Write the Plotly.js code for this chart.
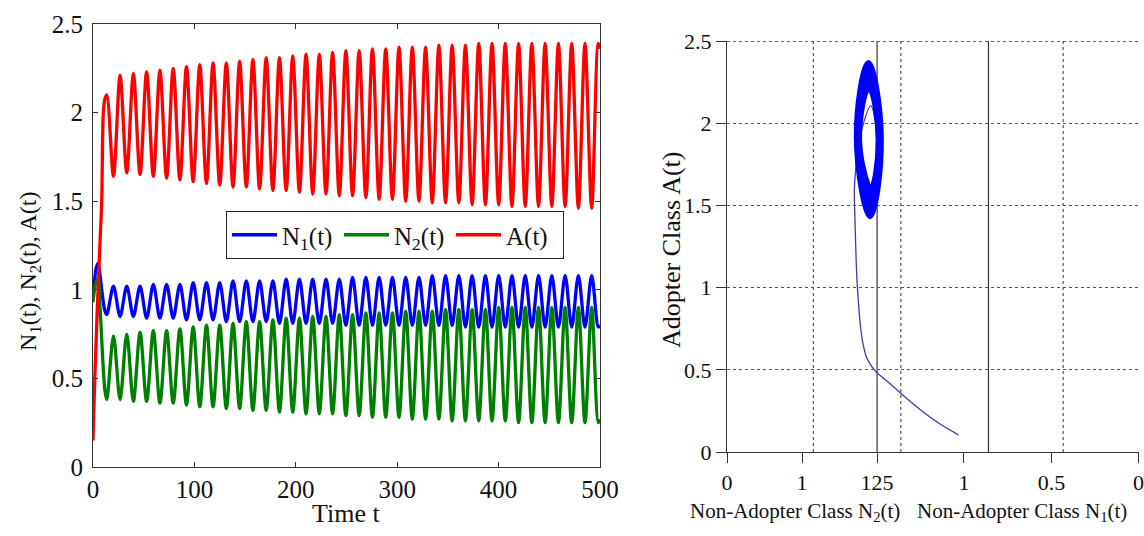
<!DOCTYPE html>
<html>
<head>
<meta charset="utf-8">
<script src="https://cdn.plot.ly/plotly-3.0.1.min.js"></script>
<style>
html,body{margin:0;padding:0;background:#fff;}
#chart{width:1144px;height:536px;}
</style>
</head>
<body>
<div id="chart"></div>
<script>
// ---------- Left panel: time series ----------
const timeT = [0,1.5,3,5,7,8.6,10.2,11.8,
  13.6,20.2,26.7,33.3,39.8,46.4,52.9,59.5,66.0,72.6,79.1,85.7,92.2,98.8,105.3,111.9,118.4,125.0,131.5,138.1,
  144.6,151.2,157.7,164.3,170.8,177.4,183.9,190.5,197.0,203.6,210.1,216.7,223.2,229.8,236.3,242.9,249.4,256.0,
  262.5,269.1,275.6,282.2,288.7,295.3,301.8,308.4,314.9,321.5,328.0,334.6,341.1,347.7,354.2,360.8,367.3,373.9,
  380.4,387.0,393.5,400.1,406.6,413.2,419.7,426.3,432.8,439.4,445.9,452.5,459.0,465.6,472.1,478.7,485.2,491.8,
  498.3,500];

const adopterA = [0.15,0.45,0.70,1.00,1.28,1.50,2.00,2.08,
  2.10,1.64, 2.21,1.66, 2.22,1.65, 2.23,1.64, 2.24,1.63, 2.25,1.62, 2.26,1.61, 2.27,1.60, 2.28,1.59, 2.28,1.58,
  2.29,1.58, 2.30,1.57, 2.31,1.56, 2.31,1.56, 2.32,1.55, 2.33,1.54, 2.33,1.54, 2.34,1.53, 2.35,1.53, 2.35,1.52,
  2.36,1.51, 2.36,1.51, 2.37,1.50, 2.37,1.50, 2.37,1.49, 2.38,1.49, 2.38,1.49, 2.38,1.48, 2.39,1.48, 2.39,1.48,
  2.39,1.47, 2.39,1.47, 2.39,1.47, 2.39,1.47, 2.39,1.47, 2.39,1.46, 2.39,1.46, 2.39, 2.36];

const nonAdopterN1 = [0.97,1.05,1.12,1.15,1.08,1.00,0.93,0.88,
  0.86,1.02, 0.85,1.02, 0.85,1.02, 0.84,1.03, 0.84,1.03, 0.84,1.03, 0.83,1.04, 0.83,1.04, 0.83,1.04, 0.82,1.05,
  0.82,1.05, 0.82,1.05, 0.82,1.05, 0.81,1.06, 0.81,1.06, 0.81,1.06, 0.81,1.06, 0.81,1.06, 0.80,1.07, 0.80,1.07,
  0.80,1.07, 0.80,1.07, 0.80,1.07, 0.80,1.07, 0.80,1.08, 0.80,1.08, 0.80,1.08, 0.79,1.08, 0.79,1.08, 0.79,1.08,
  0.79,1.08, 0.79,1.08, 0.79,1.08, 0.79,1.08, 0.79,1.08, 0.79,1.08, 0.79,1.08, 0.79, 0.80];

const nonAdopterN2 = [0.93,1.00,1.04,1.07,0.90,0.72,0.55,0.43,
  0.38,0.74, 0.38,0.75, 0.37,0.76, 0.37,0.77, 0.36,0.77, 0.36,0.78, 0.35,0.79, 0.34,0.80, 0.34,0.80, 0.33,0.81,
  0.33,0.82, 0.32,0.82, 0.32,0.83, 0.31,0.84, 0.31,0.84, 0.30,0.85, 0.30,0.85, 0.30,0.86, 0.29,0.86, 0.29,0.87,
  0.28,0.87, 0.28,0.87, 0.28,0.88, 0.27,0.88, 0.27,0.88, 0.27,0.89, 0.26,0.89, 0.26,0.89, 0.26,0.89, 0.26,0.90,
  0.26,0.90, 0.25,0.90, 0.25,0.90, 0.25,0.90, 0.25,0.90, 0.25,0.90, 0.25,0.90, 0.25, 0.27];

const seriesNames = ['N<sub>1</sub>(t)','N<sub>2</sub>(t)','A(t)'];
const leftXTicks = [0,100,200,300,400,500];
const leftYTicks = [0,0.5,1,1.5,2,2.5];

// ---------- Right panel: projected phase portrait ----------
// horizontal coordinate = position along the (projected) bottom axis
const phaseInU = [3.084,2.84,2.618,2.396,2.218,2.084,2.004,1.929,1.862,1.809,1.773,1.751,1.733,1.72,1.707,1.698,
  1.73,1.79,1.916,1.99,1.99,1.90];
const phaseInA = [0.104,0.17,0.242,0.325,0.397,0.449,0.48,0.52,0.573,0.666,0.79,0.914,1.038,1.182,1.389,1.606,
  1.78,1.95,2.105,1.95,1.75,1.60];

const ringU = [1.90,
  1.77,1.89,2.01,1.90,
  1.76,1.89,2.02,1.90,
  1.75,1.887,2.03,1.903,
  1.74,1.886,2.04,1.904,
  1.73,1.885,2.05,1.905,
  1.72,1.884,2.06,1.906,
  1.72,1.884,2.06,1.907,1.72,1.884];
const ringA = [1.60,
  1.90,2.21,1.90,1.585,
  1.90,2.245,1.90,1.56,
  1.905,2.275,1.905,1.53,
  1.91,2.30,1.91,1.50,
  1.91,2.325,1.91,1.475,
  1.915,2.35,1.915,1.45,
  1.915,2.37,1.915,1.43,1.915,2.37];

const rightTickVals = [0,1.0,2.0,3.157,4.324,5.485];
const rightTickText = ['0','1','125','1','0.5','0'];
const rightYTicks = [0,0.5,1,1.5,2,2.5];
const solidGuides = [2.0,3.484];
const dottedGuides = [1.151,2.316,4.48];

// ---------- figure ----------
const serif = 'Liberation Serif, Times New Roman, serif';
const W = 1144, H = 536;
const px = v => v / W;
const py = v => (H - v) / H;

// make repeated tick texts distinct (zero-width suffix) so each one is drawn
const rightTickLabels = rightTickText.map((t, i) => t + '\u200b'.repeat(i));

const traces = [
  {x: timeT, y: nonAdopterN1, name: seriesNames[0], xaxis:'x', yaxis:'y', mode:'lines',
   line:{color:'#0000ff', width:3.3, shape:'spline', smoothing:0.9}},
  {x: timeT, y: nonAdopterN2, name: seriesNames[1], xaxis:'x', yaxis:'y', mode:'lines',
   line:{color:'#008000', width:3.3, shape:'spline', smoothing:0.9}},
  {x: timeT, y: adopterA, name: seriesNames[2], xaxis:'x', yaxis:'y', mode:'lines',
   line:{color:'#ff0000', width:3.3, shape:'spline', smoothing:0.9}},
  {x: phaseInU, y: phaseInA, xaxis:'x2', yaxis:'y2', mode:'lines', showlegend:false,
   line:{color:'#3c3caa', width:1.3, shape:'spline', smoothing:1}},
  {x: ringU, y: ringA, xaxis:'x2', yaxis:'y2', mode:'lines', showlegend:false,
   line:{color:'#0000ff', width:4.5, shape:'spline', smoothing:1.3}}
];

const shapes = [];
solidGuides.forEach(v => shapes.push({type:'line', xref:'x2', yref:'y2', x0:v, x1:v, y0:0, y1:2.5,
  line:{color:'#333', width:1.2}, layer:'below'}));
dottedGuides.forEach(v => shapes.push({type:'line', xref:'x2', yref:'y2', x0:v, x1:v, y0:0, y1:2.5,
  line:{color:'#555', width:1.2, dash:'dot'}, layer:'below'}));
shapes.push({type:'line', xref:'x2', yref:'y2', x0:0, x1:5.49, y0:2.5, y1:2.5,
  line:{color:'#333', width:1.3, dash:'dot'}});

const layout = {
  width: W, height: H,
  margin:{l:0, r:0, t:0, b:0},
  paper_bgcolor:'#fff', plot_bgcolor:'#fff',
  font:{family: serif, color:'#111'},
  showlegend:true,
  legend:{orientation:'h', x:px(226), y:py(211), xanchor:'left', yanchor:'top',
    bordercolor:'#222', borderwidth:1, bgcolor:'#fff',
    font:{family:serif, size:25, color:'#111'}, itemwidth:45,
    entrywidth:52, entrywidthmode:'pixels', tracegroupgap:0},
  xaxis:{domain:[px(93), px(600)], anchor:'y', range:[0,500], tickvals:leftXTicks,
    ticks:'inside', ticklen:5, tickcolor:'#333', showline:true, linecolor:'#333', linewidth:1, mirror:'ticks',
    showgrid:false, zeroline:false, tickfont:{family:serif, size:25, color:'#111'}},
  yaxis:{domain:[py(467), py(24)], anchor:'x', range:[0,2.5], tickvals:leftYTicks,
    ticks:'inside', ticklen:5, tickcolor:'#333', showline:true, linecolor:'#333', linewidth:1, mirror:'ticks',
    showgrid:false, zeroline:false, tickfont:{family:serif, size:25, color:'#111'}, ticklabelstandoff:4},
  xaxis2:{domain:[px(727), px(1139)], anchor:'y2', range:[0,5.49], tickvals:rightTickVals, ticktext:rightTickLabels,
    ticks:'outside', ticklen:10, tickcolor:'#333', showline:true, linecolor:'#333', linewidth:1.2,
    ticklabeloverflow:'allow',
    showgrid:false, zeroline:false, tickfont:{family:serif, size:22, color:'#111'}},
  yaxis2:{domain:[py(452), py(41)], anchor:'x2', range:[0,2.5], tickvals:rightYTicks,
    ticks:'outside', ticklen:10, tickcolor:'#333', showline:true, linecolor:'#333', linewidth:1.2,
    showgrid:true, gridcolor:'#555', griddash:'dot', gridwidth:1.2, zeroline:false,
    tickfont:{family:serif, size:22, color:'#111'}},
  shapes: shapes,
  annotations:[
    {text:'Time t', xref:'paper', yref:'paper', x:px(346), y:py(513), xanchor:'center', yanchor:'middle',
     showarrow:false, font:{family:serif, size:26, color:'#111'}},
    {text:'N<sub>1</sub>(t), N<sub>2</sub>(t), A(t)', xref:'paper', yref:'paper', x:px(30), y:py(272),
     xanchor:'center', yanchor:'middle', textangle:-90, showarrow:false, font:{family:serif, size:24, color:'#111'}},
    {text:'Adopter Class A(t)', xref:'paper', yref:'paper', x:px(672), y:py(250),
     xanchor:'center', yanchor:'middle', textangle:-90, showarrow:false, font:{family:serif, size:26, color:'#111'}},
    {text:'Non-Adopter Class N<sub>2</sub>(t)', xref:'paper', yref:'paper', x:px(795), y:py(512),
     xanchor:'center', yanchor:'middle', showarrow:false, font:{family:serif, size:21, color:'#111'}},
    {text:'Non-Adopter Class N<sub>1</sub>(t)', xref:'paper', yref:'paper', x:px(1022), y:py(512),
     xanchor:'center', yanchor:'middle', showarrow:false, font:{family:serif, size:21, color:'#111'}}
  ]
};

Plotly.newPlot('chart', traces, layout, {displayModeBar:false, staticPlot:true});
</script>
</body>
</html>
